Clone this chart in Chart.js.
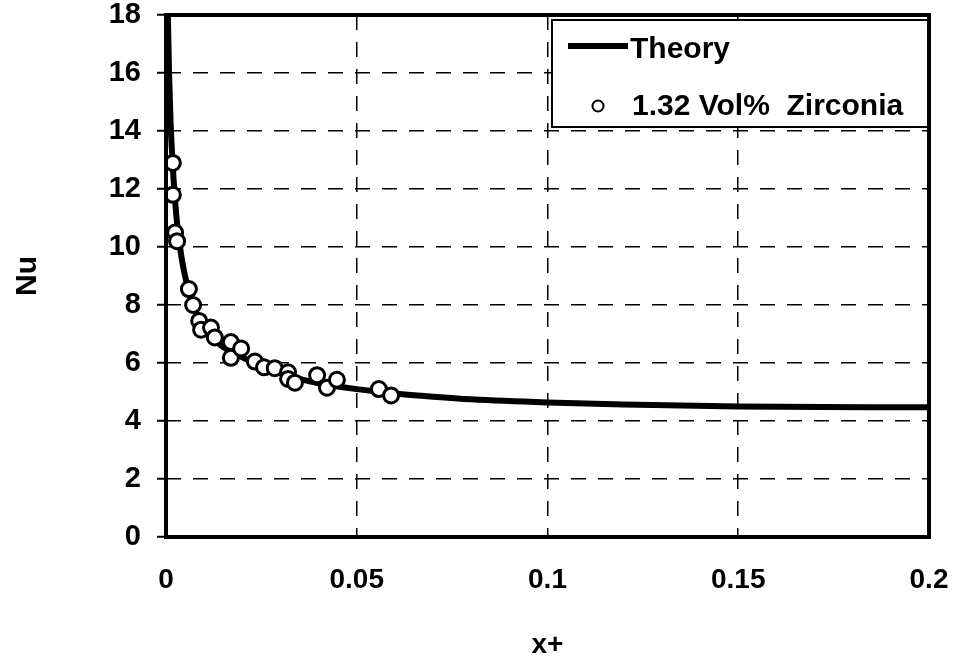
<!DOCTYPE html>
<html>
<head>
<meta charset="utf-8">
<script src="https://cdn.jsdelivr.net/npm/chart.js@4/dist/chart.umd.min.js"></script>
<style>
  html, body { margin: 0; padding: 0; background: #ffffff; }
  #wrap { width: 958px; height: 662px; }
</style>
</head>
<body>
<div id="wrap"><canvas id="nuChart" width="958" height="662"></canvas></div>
<script>
// Nu vs x+ : theory curve and measured points

const theoryX = [0.0004, 0.0008, 0.0012, 0.0016, 0.002, 0.0025, 0.003, 0.004, 0.005, 0.006,
                 0.008, 0.01, 0.0125, 0.015, 0.02, 0.025, 0.03, 0.035, 0.04, 0.05,
                 0.06, 0.07, 0.08, 0.1, 0.12, 0.15, 0.2];
const theoryNu = [18.6, 16.0, 14.3, 13.2, 12.3, 11.4, 10.7, 9.7, 9.0, 8.45,
                  7.7, 7.25, 6.85, 6.55, 6.2, 5.9, 5.65, 5.45, 5.3, 5.1,
                  4.95, 4.84, 4.75, 4.64, 4.57, 4.5, 4.47];

const dataX = [0.0018, 0.0018, 0.0024, 0.0029, 0.006, 0.0071, 0.0087, 0.0092, 0.0118, 0.0128,
               0.017, 0.017, 0.0197, 0.0233, 0.0257, 0.0285, 0.032, 0.032, 0.0338, 0.0396,
               0.0422, 0.0448, 0.0558, 0.059];
const dataNu = [12.9, 11.8, 10.5, 10.2, 8.55, 8.0, 7.45, 7.15, 7.22, 6.88,
                6.72, 6.18, 6.5, 6.05, 5.85, 5.82, 5.68, 5.45, 5.32, 5.58,
                5.15, 5.42, 5.1, 4.88];

const xTicks = [0, 0.05, 0.1, 0.15, 0.2];
const yTicks = [0, 2, 4, 6, 8, 10, 12, 14, 16, 18];

const fontFamily = '"Liberation Sans", Arial, sans-serif';

const toPoints = (xs, ys) => xs.map((x, i) => ({ x: x, y: ys[i] }));

// edge grid lines are hidden, the frame is drawn instead
function gridColor(ctx) {
    const ticks = ctx.scale.ticks;
    if (ctx.index === 0 || ctx.index === ticks.length - 1) return 'rgba(0,0,0,0)';
    return '#000000';
}

// thick frame round the plot area
const framePlugin = {
    id: 'frame',
    afterDatasetsDraw(chart) {
        const a = chart.chartArea;
        const ctx = chart.ctx;
        ctx.save();
        ctx.strokeStyle = '#000000';
        ctx.lineWidth = 4;
        ctx.strokeRect(a.left, a.top, a.right - a.left, a.bottom - a.top);
        ctx.restore();
    }
};

// legend box inside the top right corner
const legendPlugin = {
    id: 'boxLegend',
    afterDraw(chart) {
        const a = chart.chartArea;
        const ctx = chart.ctx;
        const ds = chart.data.datasets;
        const x0 = 552, y0 = 20, x1 = a.right - 1, y1 = 127;
        ctx.save();
        ctx.fillStyle = '#ffffff';
        ctx.fillRect(x0, y0, x1 - x0, y1 - y0);
        ctx.strokeStyle = '#000000';
        ctx.lineWidth = 2;
        ctx.strokeRect(x0, y0, x1 - x0, y1 - y0);

        ctx.font = 'bold 30px ' + fontFamily;
        ctx.fillStyle = '#000000';
        ctx.textBaseline = 'middle';
        ctx.textAlign = 'left';

        // Theory
        ctx.lineWidth = 6;
        ctx.beginPath();
        ctx.moveTo(568, 46);
        ctx.lineTo(628, 46);
        ctx.stroke();
        ctx.fillText(ds[0].label, 630, 50);

        // measured points
        ctx.lineWidth = 2;
        ctx.beginPath();
        ctx.arc(598, 106, 5.5, 0, Math.PI * 2);
        ctx.fillStyle = '#ffffff';
        ctx.fill();
        ctx.stroke();
        ctx.fillStyle = '#000000';
        ctx.fillText(ds[1].label, 632, 107);
        ctx.restore();
    }
};

const ctx = document.getElementById('nuChart').getContext('2d');

const chart = new Chart(ctx, {
    type: 'scatter',
    data: {
        datasets: [
            {
                label: 'Theory',
                data: toPoints(theoryX, theoryNu),
                showLine: true,
                borderColor: '#000000',
                borderWidth: 6,
                pointRadius: 0,
                cubicInterpolationMode: 'monotone',
                order: 2
            },
            {
                label: '1.32 Vol%  Zirconia',
                data: toPoints(dataX, dataNu),
                showLine: false,
                pointRadius: 7.5,
                pointBorderWidth: 3,
                pointBackgroundColor: '#ffffff',
                pointBorderColor: '#000000',
                order: 1
            }
        ]
    },
    options: {
        responsive: false,
        animation: false,
        devicePixelRatio: 1,
        layout: { padding: { left: 0, right: 29, top: 15, bottom: 0 } },
        plugins: {
            legend: { display: false },
            tooltip: { enabled: false }
        },
        scales: {
            x: {
                type: 'linear',
                min: 0,
                max: 0.2,
                afterBuildTicks(scale) {
                    scale.ticks = xTicks.map(v => ({ value: v }));
                },
                afterFit(scale) {
                    scale.height = 125;
                    scale.paddingLeft = 0;
                    scale.paddingRight = 0;
                },
                border: { display: false, dash: [15, 12] },
                grid: {
                    color: gridColor,
                    lineWidth: 1.5,
                    drawTicks: false
                },
                ticks: {
                    color: '#000000',
                    padding: 26,
                    maxRotation: 0,
                    font: { family: fontFamily, size: 28, weight: 'bold' },
                    callback: v => String(v)
                },
                title: {
                    display: true,
                    text: 'x+',
                    color: '#000000',
                    padding: { top: 0, bottom: 0 },
                    font: { family: fontFamily, size: 28, weight: 'bold' }
                }
            },
            y: {
                type: 'linear',
                min: 0,
                max: 18,
                afterBuildTicks(scale) {
                    scale.ticks = yTicks.map(v => ({ value: v }));
                },
                afterFit(scale) {
                    scale.width = 166;
                    scale.paddingTop = 0;
                    scale.paddingBottom = 0;
                },
                border: { display: false, dash: [15, 12] },
                grid: {
                    color: gridColor,
                    lineWidth: 1.5,
                    drawTicks: true,
                    tickLength: 9,
                    tickColor: '#000000',
                    tickWidth: 2,
                    tickBorderDash: []
                },
                ticks: {
                    color: '#000000',
                    padding: 16,
                    font: { family: fontFamily, size: 29, weight: 'bold' }
                },
                title: {
                    display: true,
                    text: 'Nu',
                    color: '#000000',
                    padding: { top: 10, bottom: 0 },
                    font: { family: fontFamily, size: 30, weight: 'bold' }
                }
            }
        }
    },
    plugins: [framePlugin, legendPlugin]
});
</script>
</body>
</html>
